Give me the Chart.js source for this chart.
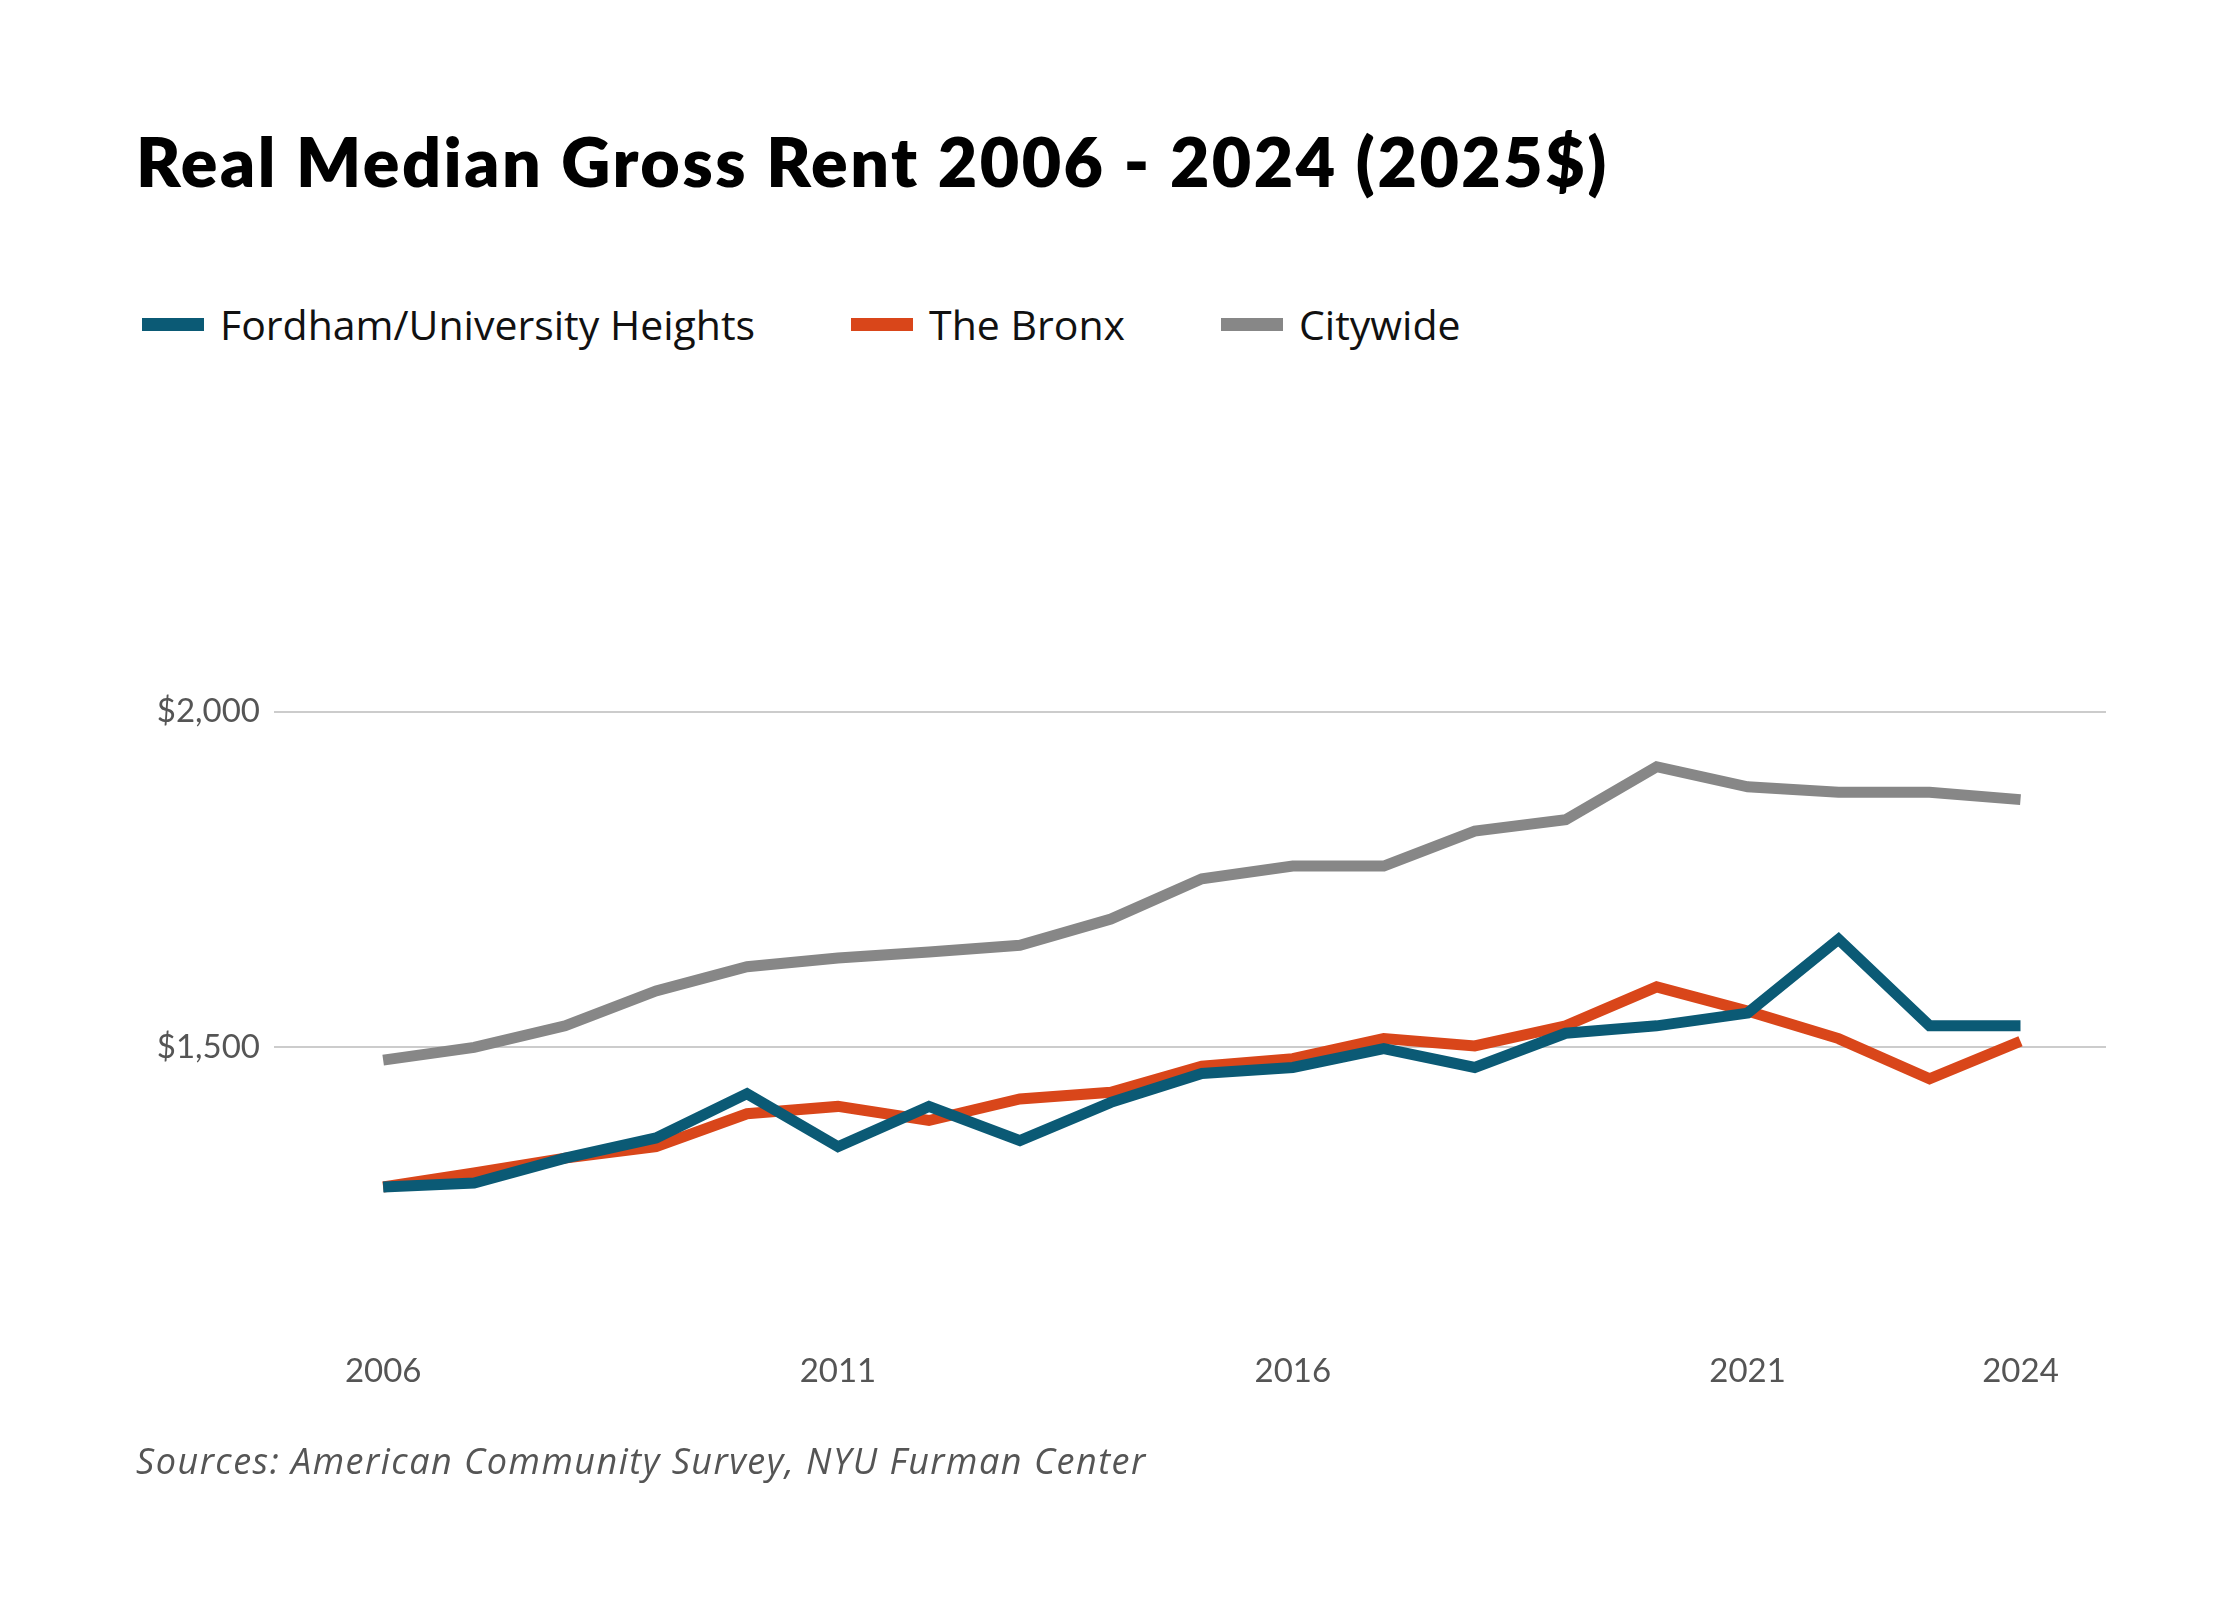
<!DOCTYPE html>
<html>
<head>
<meta charset="utf-8">
<script src="https://cdn.jsdelivr.net/npm/chart.js@4/dist/chart.umd.min.js"></script>
<style>
  body { margin: 0; background: #fff; }
  #wrap { position: relative; width: 2240px; height: 1600px; font-family: Lato, "Open Sans", sans-serif; }
  #title { position: absolute; left: 136px; top: 120px; font-size: 68px; font-weight: 800; color: #000; letter-spacing: 2.5px; }
  #legend { position: absolute; left: 142px; top: 296px; display: flex; font-size: 41px; color: #111; font-family: "Open Sans", sans-serif; }
  .item { display: flex; align-items: center; margin-right: 96px; }
  .sw { width: 62px; height: 13px; margin-right: 16px; }
  #source { position: absolute; left: 136px; top: 1436px; font-size: 36px; font-style: italic; color: #555; font-family: "Open Sans", sans-serif; letter-spacing: 1.5px; }
  canvas { position: absolute; left: 0; top: 0; }
</style>
</head>
<body>
<div id="wrap">
  <div id="title">Real Median Gross Rent 2006 - 2024 (2025$)</div>
  <div id="legend">
    <div class="item"><div class="sw" style="background:#0b5a75"></div>Fordham/University Heights</div>
    <div class="item"><div class="sw" style="background:#d9461a"></div>The Bronx</div>
    <div class="item"><div class="sw" style="background:#878787"></div>Citywide</div>
  </div>
  <canvas id="chart" width="2240" height="1600"></canvas>
  <div id="source">Sources: American Community Survey, NYU Furman Center</div>
</div>
<script>
const years = [2006, 2007, 2008, 2009, 2010, 2011, 2012, 2013, 2014, 2015, 2016, 2017, 2018, 2019, 2020, 2021, 2022, 2023, 2024];
const fordham = [1292, 1298, 1335, 1365, 1431, 1352, 1412, 1361, 1418, 1461, 1470, 1498, 1470, 1521, 1532, 1551, 1661, 1532, 1532];
const bronx = [1292, 1313, 1335, 1352, 1401, 1412, 1391, 1423, 1433, 1472, 1483, 1513, 1502, 1532, 1590, 1554, 1513, 1453, 1509];
const citywide = [1481, 1500, 1532, 1584, 1620, 1633, 1642, 1652, 1691, 1751, 1770, 1770, 1822, 1839, 1918, 1888, 1880, 1880, 1869];
const xTicks = [2006, 2011, 2016, 2021, 2024];
const yTicks = [1500, 2000];

function series(vals) {
    return vals.map((v, i) => ({ x: years[i], y: v }));
}

const ctx = document.getElementById('chart').getContext('2d');
new Chart(ctx, {
    type: 'line',
    data: {
        datasets: [
            { label: 'Citywide', data: series(citywide), borderColor: '#878787' },
            { label: 'Fordham/University Heights', data: series(fordham), borderColor: '#0b5a75' },
            { label: 'The Bronx', data: series(bronx), borderColor: '#d9461a' }
        ]
    },
    options: {
        responsive: false,
        animation: false,
        elements: { line: { borderWidth: 11, tension: 0, borderCapStyle: 'butt' }, point: { radius: 0 } },
        layout: { padding: { left: 144, top: 376, right: 134, bottom: 184 } },
        plugins: { legend: { display: false }, tooltip: { enabled: false } },
        scales: {
            x: {
                type: 'linear', min: 2004.8, max: 2024.94,
                afterBuildTicks: s => { s.ticks = xTicks.map(v => ({ value: v })); },
                afterFit: s => { s.height = 80; },
                grid: { display: false }, border: { display: false },
                ticks: { color: '#555', font: { size: 33, family: 'Lato' }, padding: 8, callback: v => String(v) }
            },
            y: {
                min: 1070, max: 2500,
                afterBuildTicks: s => { s.ticks = yTicks.map(v => ({ value: v })); },
                afterFit: s => { s.width = 130; },
                grid: { color: '#cccccc', lineWidth: 2, drawTicks: false },
                border: { display: false },
                ticks: { color: '#555', font: { size: 33, family: 'Lato' }, padding: 14,
                    callback: v => '$' + v.toLocaleString('en-US') }
            }
        }
    }
});
</script>
</body>
</html>
